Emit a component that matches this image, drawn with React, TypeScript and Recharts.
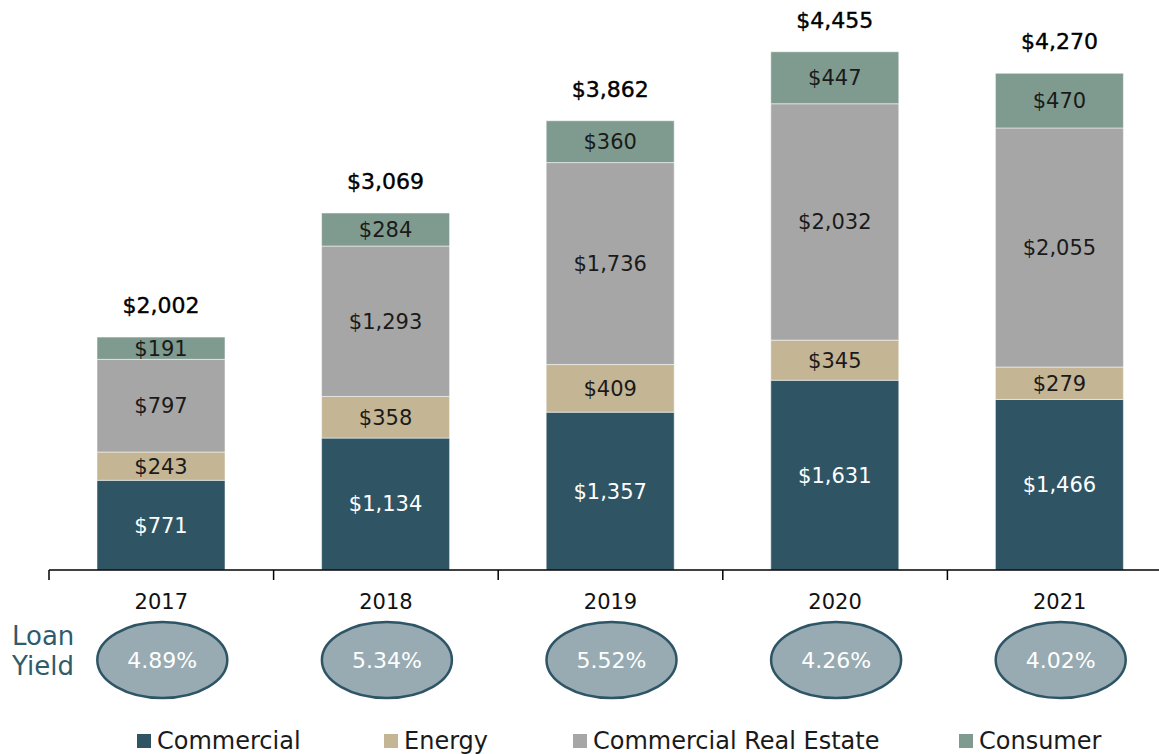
import React from "react";
import { BarChart, Bar, XAxis, YAxis, LabelList, Legend } from "recharts";

const years = ["2017", "2018", "2019", "2020", "2021"];
const commercial = [771, 1134, 1357, 1631, 1466];
const energy = [243, 358, 409, 345, 279];
const realEstate = [797, 1293, 1736, 2032, 2055];
const consumer = [191, 284, 360, 447, 470];
const totals = [2002, 3069, 3862, 4455, 4270];
const loanYield = ["4.89%", "5.34%", "5.52%", "4.26%", "4.02%"];

const SERIES = [
  { key: "commercial", name: "Commercial", color: "#2f5564", text: "#ffffff" },
  { key: "energy", name: "Energy", color: "#c4b594", text: "#1a1a1a" },
  { key: "realEstate", name: "Commercial Real Estate", color: "#a6a6a6", text: "#1a1a1a" },
  { key: "consumer", name: "Consumer", color: "#7f9b8f", text: "#1a1a1a" },
];
const LEGEND_X = [137, 384, 573, 959];

const data = years.map((year, i) => ({
  year,
  commercial: commercial[i],
  energy: energy[i],
  realEstate: realEstate[i],
  consumer: consumer[i],
  total: totals[i],
}));

const FONT = "'DejaVu Sans', sans-serif";
const WIDTH = 1172;
const LEFT = 49;
const BAND = (WIDTH - LEFT) / years.length;

const money = (v: number) => "$" + v.toLocaleString("en-US");

const YearTick = (props: any) => {
  const { x, y, payload, index } = props;
  return (
    <g>
      <line x1={x - BAND / 2} x2={x - BAND / 2} y1={y} y2={y + 10} stroke="#000" strokeWidth={1.5} />
      <text x={x} y={y + 39} textAnchor="middle" fontSize={21} fill="#111" fontFamily={FONT}>
        {payload.value}
      </text>
      <ellipse cx={x + 1} cy={y + 90} rx={65} ry={38} fill="#98abb2" stroke="#2e5566" strokeWidth={2.5} />
      <text x={x + 1} y={y + 98} textAnchor="middle" fontSize={22} fill="#ffffff" fontFamily={FONT}>
        {loanYield[index]}
      </text>
    </g>
  );
};

const TotalLabel = (props: any) => {
  const { x, y, width, index } = props;
  return (
    <text
      x={x + width / 2}
      y={y - 24}
      textAnchor="middle"
      fontSize={22}
      fill="#000"
      stroke="#000"
      strokeWidth={0.4}
      fontFamily={FONT}
    >
      {money(totals[index])}
    </text>
  );
};

const renderLegend = () => (
  <div style={{ position: "relative", height: 30, fontFamily: FONT }}>
    {SERIES.map((s, i) => (
      <div
        key={s.key}
        style={{
          position: "absolute",
          left: LEGEND_X[i],
          top: 0,
          display: "flex",
          alignItems: "center",
          height: 22,
          fontSize: 24,
          color: "#1a1a1a",
          whiteSpace: "nowrap",
        }}
      >
        <span style={{ width: 14, height: 14, background: s.color, marginRight: 6, display: "inline-block" }} />
        {s.name}
      </div>
    ))}
  </div>
);

export default function App() {
  return (
    <div style={{ position: "absolute", left: 0, top: 0, width: 1159, height: 754, overflow: "hidden", background: "#fff" }}>
      <div style={{ position: "absolute", left: 12, top: 621, fontFamily: FONT, fontSize: 26, lineHeight: "30px", color: "#2f5b6d" }}>
        <div>Loan</div>
        <div>Yield</div>
      </div>
      <BarChart
        width={WIDTH}
        height={760}
        data={data}
        margin={{ top: 0, right: 0, bottom: 0, left: LEFT }}
        barSize={128}
      >
        <YAxis hide domain={[0, 4900]} />
        <XAxis
          dataKey="year"
          height={160}
          tickLine={false}
          tickSize={0}
          tickMargin={0}
          axisLine={{ stroke: "#000", strokeWidth: 1.5 }}
          tick={<YearTick />}
          interval={0}
        />
        {SERIES.map((s, i) => (
          <Bar
            key={s.key}
            dataKey={s.key}
            name={s.name}
            stackId="a"
            fill={s.color}
            stroke="#ffffff"
            strokeOpacity={0.5}
            strokeWidth={1}
            isAnimationActive={false}
          >
            <LabelList
              dataKey={s.key}
              position="center"
              formatter={(v: any) => money(Number(v))}
              fill={s.text}
              fontSize={21}
              fontFamily={FONT}
            />
            {i === SERIES.length - 1 && <LabelList dataKey="total" content={<TotalLabel />} />}
          </Bar>
        ))}
        <Legend verticalAlign="bottom" height={30} content={renderLegend} wrapperStyle={{ left: 0, width: WIDTH }} />
      </BarChart>
    </div>
  );
}
